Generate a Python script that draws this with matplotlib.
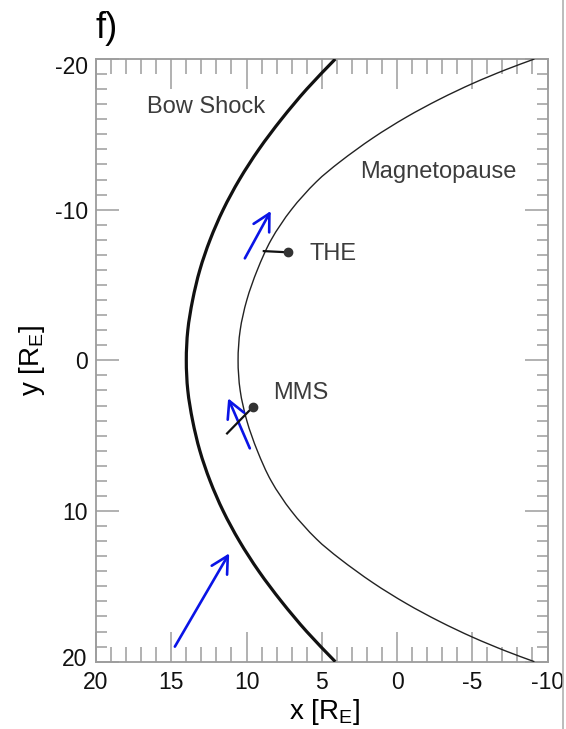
import math
import matplotlib
matplotlib.use("Agg")
import matplotlib.pyplot as plt
from matplotlib.ticker import MultipleLocator, FixedLocator
from matplotlib.transforms import ScaledTranslation
from matplotlib.lines import Line2D
from matplotlib.path import Path
from matplotlib.patches import PathPatch

plt.rcParams["font.family"] = ["Liberation Sans", "DejaVu Sans"]
plt.rcParams["mathtext.fontset"] = "custom"
plt.rcParams["mathtext.rm"] = "Liberation Sans"
plt.rcParams["mathtext.it"] = "Liberation Sans:italic"

# Bow shock boundary (x, y in Earth radii), dawn to dusk
bow_x = [4.10, 6.00, 7.68, 9.18, 10.47, 11.55, 12.42, 13.10, 13.58, 13.90, 14.00,
         13.90, 13.58, 13.10, 12.42, 11.55, 10.47, 9.18, 7.68, 6.00, 4.10]
bow_y = [-20, -18, -16, -14, -12, -10, -8, -6, -4, -2, 0,
         2, 4, 6, 8, 10, 12, 14, 16, 18, 20]

# Magnetopause boundary
mp_x = [-9.13, -7.25, -5.04, -2.83, -0.62, 1.60, 3.81, 5.36, 7.02, 8.36, 9.28, 9.98,
        10.42, 10.56, 10.42, 9.98, 9.28, 8.36, 7.02, 5.36, 3.81, 1.60, -0.62, -2.83,
        -5.04, -7.25, -9.13]
mp_y = [-20.0, -19.30, -18.38, -17.33, -16.14, -14.76, -13.16, -11.85, -10, -8, -6, -4,
        -2, 0, 2, 4, 6, 8, 10, 11.85, 13.16, 14.76, 16.14, 17.33, 18.38, 19.30, 20.0]

# Field direction arrows: tail and head positions
arrow_tail_x = [10.11, 9.78, 14.76]
arrow_tail_y = [-6.77, 5.84, 19.0]
arrow_head_x = [8.39, 11.22, 11.15]
arrow_head_y = [-9.91, 2.52, 12.81]

# Spacecraft positions and their normal markers
sc_names = ["THE", "MMS"]
sc_x = [7.24, 9.56]
sc_y = [-7.17, 3.08]
stick_x = [8.85, 11.29]
stick_y = [-7.25, 4.85]

x_ticks = [20, 15, 10, 5, 0, -5, -10]
y_ticks = [-20, -10, 0, 10, 20]


def smooth_path(xs, ys):
    """Cubic Bezier path through every vertex, tangents scaled by chord length."""
    pts = list(zip(xs, ys))
    n = len(pts)
    d = [math.hypot(pts[i + 1][0] - pts[i][0], pts[i + 1][1] - pts[i][1]) for i in range(n - 1)]
    tang = []
    for i in range(n):
        if i == 0:
            t = ((pts[1][0] - pts[0][0]) / d[0], (pts[1][1] - pts[0][1]) / d[0])
        elif i == n - 1:
            t = ((pts[-1][0] - pts[-2][0]) / d[-1], (pts[-1][1] - pts[-2][1]) / d[-1])
        else:
            s = d[i - 1] + d[i]
            t = ((pts[i + 1][0] - pts[i - 1][0]) / s, (pts[i + 1][1] - pts[i - 1][1]) / s)
        tang.append(t)
    verts = [pts[0]]
    codes = [Path.MOVETO]
    for i in range(n - 1):
        h = d[i] / 3
        c1 = (pts[i][0] + tang[i][0] * h, pts[i][1] + tang[i][1] * h)
        c2 = (pts[i + 1][0] - tang[i + 1][0] * h, pts[i + 1][1] - tang[i + 1][1] * h)
        verts += [c1, c2, pts[i + 1]]
        codes += [Path.CURVE4] * 3
    return Path(verts, codes)


W, H = 566, 729
fig = plt.figure(figsize=(W / 100, H / 100), dpi=100)
ax = fig.add_axes([96 / W, (H - 661.7) / H, (547.5 - 96) / W, (661.7 - 59) / H])

ax.add_patch(PathPatch(smooth_path(bow_x, bow_y), fill=False, edgecolor="#111111",
                       lw=2.3, zorder=3))
ax.add_patch(PathPatch(smooth_path(mp_x, mp_y), fill=False, edgecolor="#222222",
                       lw=1.0, zorder=3))

for tx, ty, hx, hy in zip(arrow_tail_x, arrow_tail_y, arrow_head_x, arrow_head_y):
    ax.annotate("", xy=(hx, hy), xytext=(tx, ty),
                arrowprops=dict(arrowstyle="->,head_length=0.6,head_width=0.32",
                                color="#0a14e6", lw=1.9, shrinkA=0, shrinkB=0,
                                mutation_scale=20),
                zorder=4)

for name, x0, y0, x1, y1 in zip(sc_names, sc_x, sc_y, stick_x, stick_y):
    ax.plot([x1, x0], [y1, y0], color="#111111", lw=1.6, zorder=5)
    ax.plot([x0], [y0], "o", color="#333333", ms=6, zorder=6)

text_color = "#3c3c3c"
fs = 17
ax.text(5.8, -7.05, "THE", fontsize=fs, color=text_color, ha="left", va="center")
ax.text(8.25, 2.2, "MMS", fontsize=fs, color=text_color, ha="left", va="center")
ax.text(16.62, -16.8, "Bow Shock", fontsize=fs, color=text_color, ha="left", va="center")
ax.text(2.45, -12.5, "Magnetopause", fontsize=fs, color=text_color, ha="left", va="center")

ax.set_xlim(20, -10)
ax.set_ylim(20, -20)

ax.xaxis.set_major_locator(FixedLocator(x_ticks))
ax.xaxis.set_minor_locator(MultipleLocator(1))
ax.yaxis.set_major_locator(FixedLocator(y_ticks))
ax.yaxis.set_minor_locator(MultipleLocator(1))
ax.set_xticklabels([str(v) for v in x_ticks])
ax.set_yticklabels([str(v) for v in y_ticks])

grey = "#9c9c9c"
for s in ax.spines.values():
    s.set_color(grey)
    s.set_linewidth(1.3)
ax.tick_params(axis="x", which="major", direction="in", length=21.6, width=1.1,
               color=grey, top=True, bottom=True, labelsize=16.5, pad=7, labelcolor="#111111")
ax.tick_params(axis="x", which="minor", direction="in", length=10.8, width=1.1,
               color=grey, top=True, bottom=True)
ax.tick_params(axis="y", which="major", direction="in", length=16.3, width=1.1,
               color=grey, left=True, right=True, labelsize=16.5, pad=6, labelcolor="#111111")
ax.tick_params(axis="y", which="minor", direction="in", length=8.1, width=1.1,
               color=grey, left=True, right=True)

# nudge the end labels of the y axis inward
labels = ax.get_yticklabels()
labels[0].set_transform(labels[0].get_transform() + ScaledTranslation(0, -6 / 100, fig.dpi_scale_trans))
labels[-1].set_transform(labels[-1].get_transform() + ScaledTranslation(0, 5 / 100, fig.dpi_scale_trans))

fig.text(325 / W, 1 - 712 / H, r"x [R$_\mathrm{E}$]", fontsize=20, ha="center", va="center")
fig.text(32 / W, 1 - 360 / H, r"y [R$_\mathrm{E}$]", fontsize=20, ha="center", va="center",
         rotation=90)
fig.text(95 / W, 1 - 29 / H, "f)", fontsize=26, ha="left", va="center")

fig.add_artist(Line2D([563 / W, 563 / W], [0, 1], transform=fig.transFigure,
                      color="#b0b0b0", lw=1.2))

fig.savefig("out.png", dpi=100)
